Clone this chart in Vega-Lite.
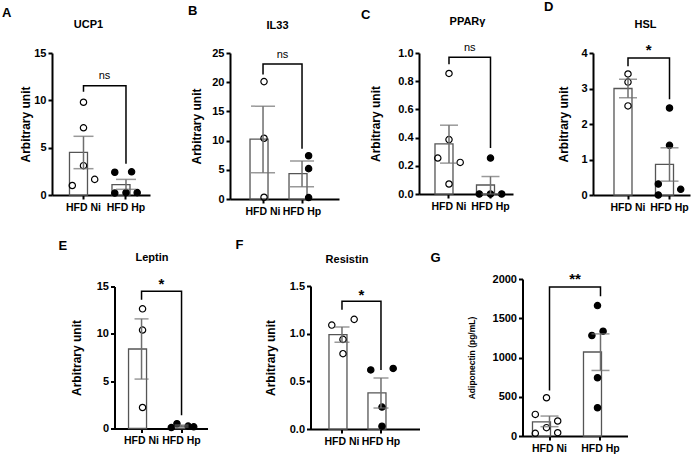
{
"$schema": "https://vega.github.io/schema/vega-lite/v6.json",
"background": "white",
"padding": {"left": 2, "top": 1, "right": 2, "bottom": 2},
"datasets": {
"pts": [
{"p":"A","g":"HFD Ni","v":9.8,"j":3},{"p":"A","g":"HFD Ni","v":7.1,"j":3},{"p":"A","g":"HFD Ni","v":3.1,"j":3},{"p":"A","g":"HFD Ni","v":1.0,"j":1},{"p":"A","g":"HFD Ni","v":1.65,"j":5},
{"p":"A","g":"HFD Hp","v":2.4,"j":1},{"p":"A","g":"HFD Hp","v":2.45,"j":4},{"p":"A","g":"HFD Hp","v":0.2,"j":1},{"p":"A","g":"HFD Hp","v":0.25,"j":3},{"p":"A","g":"HFD Hp","v":0.25,"j":5},
{"p":"B","g":"HFD Ni","v":20.1,"j":3},{"p":"B","g":"HFD Ni","v":10.4,"j":3},{"p":"B","g":"HFD Ni","v":0.3,"j":3},
{"p":"B","g":"HFD Hp","v":7.4,"j":4},{"p":"B","g":"HFD Hp","v":5.2,"j":4},{"p":"B","g":"HFD Hp","v":0.25,"j":4},
{"p":"C","g":"HFD Ni","v":0.855,"j":3},{"p":"C","g":"HFD Ni","v":0.386,"j":3},{"p":"C","g":"HFD Ni","v":0.255,"j":1},{"p":"C","g":"HFD Ni","v":0.224,"j":5},{"p":"C","g":"HFD Ni","v":0.071,"j":3},
{"p":"C","g":"HFD Hp","v":0.255,"j":3},{"p":"C","g":"HFD Hp","v":0.0,"j":1},{"p":"C","g":"HFD Hp","v":0.0,"j":3},{"p":"C","g":"HFD Hp","v":0.0,"j":5},
{"p":"D","g":"HFD Ni","v":3.41,"j":3},{"p":"D","g":"HFD Ni","v":3.18,"j":3},{"p":"D","g":"HFD Ni","v":2.51,"j":3},
{"p":"D","g":"HFD Hp","v":2.45,"j":3},{"p":"D","g":"HFD Hp","v":1.4,"j":3},{"p":"D","g":"HFD Hp","v":0.31,"j":1},{"p":"D","g":"HFD Hp","v":0.16,"j":5},{"p":"D","g":"HFD Hp","v":0.0,"j":1},
{"p":"E","g":"HFD Ni","v":12.64,"j":3},{"p":"E","g":"HFD Ni","v":10.4,"j":3},{"p":"E","g":"HFD Ni","v":2.22,"j":3},
{"p":"E","g":"HFD Hp","v":0.1,"j":1},{"p":"E","g":"HFD Hp","v":0.5,"j":2},{"p":"E","g":"HFD Hp","v":0.25,"j":4},{"p":"E","g":"HFD Hp","v":0.18,"j":5},
{"p":"F","g":"HFD Ni","v":1.09,"j":1},{"p":"F","g":"HFD Ni","v":1.15,"j":5},{"p":"F","g":"HFD Ni","v":0.94,"j":3},{"p":"F","g":"HFD Ni","v":0.79,"j":3},
{"p":"F","g":"HFD Hp","v":0.62,"j":1},{"p":"F","g":"HFD Hp","v":0.635,"j":5},{"p":"F","g":"HFD Hp","v":0.23,"j":3},{"p":"F","g":"HFD Hp","v":0.03,"j":3},
{"p":"G","g":"HFD Ni","v":487,"j":3},{"p":"G","g":"HFD Ni","v":275,"j":1},{"p":"G","g":"HFD Ni","v":191,"j":5},{"p":"G","g":"HFD Ni","v":106,"j":3},{"p":"G","g":"HFD Ni","v":34,"j":1},{"p":"G","g":"HFD Ni","v":42,"j":5},
{"p":"G","g":"HFD Hp","v":1661,"j":3},{"p":"G","g":"HFD Hp","v":1280,"j":2},{"p":"G","g":"HFD Hp","v":1335,"j":4},{"p":"G","g":"HFD Hp","v":742,"j":3},{"p":"G","g":"HFD Hp","v":360,"j":3}
],
"sum": [
{"p":"A","g":"HFD Ni","m":4.5,"lo":2.78,"hi":6.2},{"p":"A","g":"HFD Hp","m":1.1,"lo":0.6,"hi":1.65},
{"p":"B","g":"HFD Ni","m":10.25,"lo":4.5,"hi":15.9},{"p":"B","g":"HFD Hp","m":4.35,"lo":2.1,"hi":6.5},
{"p":"C","g":"HFD Ni","m":0.355,"lo":0.219,"hi":0.488},{"p":"C","g":"HFD Hp","m":0.064,"lo":0.0,"hi":0.124},
{"p":"D","g":"HFD Ni","m":3.0,"lo":2.74,"hi":3.26},{"p":"D","g":"HFD Hp","m":0.86,"lo":0.39,"hi":1.33},
{"p":"E","g":"HFD Ni","m":8.4,"lo":5.22,"hi":11.58},{"p":"E","g":"HFD Hp","m":0.26,"lo":0.16,"hi":0.36},
{"p":"F","g":"HFD Ni","m":0.99,"lo":0.91,"hi":1.07},{"p":"F","g":"HFD Hp","m":0.378,"lo":0.22,"hi":0.535},
{"p":"G","g":"HFD Ni","m":180,"lo":119,"hi":254},{"p":"G","g":"HFD Hp","m":1070,"lo":835,"hi":1301}
],
"br": [
{"p":"A","g":"HFD Ni","y":10.9,"k":1},{"p":"A","g":"HFD Ni","y":11.55,"k":2},{"p":"A","g":"HFD Hp","y":11.55,"k":3},{"p":"A","g":"HFD Hp","y":3.3,"k":4},
{"p":"B","g":"HFD Ni","y":21.3,"k":1},{"p":"B","g":"HFD Ni","y":23.1,"k":2},{"p":"B","g":"HFD Hp","y":23.1,"k":3},{"p":"B","g":"HFD Hp","y":8.6,"k":4},
{"p":"C","g":"HFD Ni","y":0.92,"k":1},{"p":"C","g":"HFD Ni","y":0.97,"k":2},{"p":"C","g":"HFD Hp","y":0.97,"k":3},{"p":"C","g":"HFD Hp","y":0.326,"k":4},
{"p":"D","g":"HFD Ni","y":3.63,"k":1},{"p":"D","g":"HFD Ni","y":3.86,"k":2},{"p":"D","g":"HFD Hp","y":3.86,"k":3},{"p":"D","g":"HFD Hp","y":2.7,"k":4},
{"p":"E","g":"HFD Ni","y":13.6,"k":1},{"p":"E","g":"HFD Ni","y":14.5,"k":2},{"p":"E","g":"HFD Hp","y":14.5,"k":3},{"p":"E","g":"HFD Hp","y":1.4,"k":4},
{"p":"F","g":"HFD Ni","y":1.25,"k":1},{"p":"F","g":"HFD Ni","y":1.34,"k":2},{"p":"F","g":"HFD Hp","y":1.34,"k":3},{"p":"F","g":"HFD Hp","y":0.62,"k":4},
{"p":"G","g":"HFD Ni","y":580,"k":1},{"p":"G","g":"HFD Ni","y":1898,"k":2},{"p":"G","g":"HFD Hp","y":1898,"k":3},{"p":"G","g":"HFD Hp","y":1780,"k":4}
],
"sig": [
{"p":"A","g":"HFD Ni","y":12.3,"t":"ns"},{"p":"B","g":"HFD Ni","y":24.2,"t":"ns"},{"p":"C","g":"HFD Ni","y":1.016,"t":"ns"},
{"p":"D","g":"HFD Ni","y":3.93,"t":"*"},{"p":"E","g":"HFD Ni","y":14.7,"t":"*"},{"p":"F","g":"HFD Ni","y":1.35,"t":"*"},{"p":"G","g":"HFD Ni","y":1930,"t":"**"}
]
},
"spacing": 22,
"center": true,
"vconcat": [
{"hconcat": [
{"width": 98, "height": 142, "title": {"text": "A", "dx": -50, "offset": -2},
"layer": [
{"data": {"name": "sum"}, "transform": [{"filter": "datum.p == 'A'"}], "mark": {"type": "bar", "fill": "white", "stroke": "#555555", "strokeWidth": 1.3},
"encoding": {"x": {"field": "g", "type": "nominal", "title": "UCP1", "scale": {"domain": ["HFD Ni", "HFD Hp"], "paddingInner": 0.341, "paddingOuter": 0.3235, "align": 0.636}, "axis": {"titleX": 36, "titleY": -168}},
"y": {"field": "m", "type": "quantitative", "title": "Arbitrary unit", "scale": {"domain": [0, 15], "nice": false}, "axis": {"values": [0, 5, 10, 15], "titlePadding": 1, "labelOverlap": false}}}},
{"data": {"name": "pts"}, "transform": [{"filter": "datum.p == 'A'"}], "mark": {"type": "point", "shape": "circle", "size": 40, "filled": true, "stroke": "black", "strokeWidth": 1.2, "opacity": 1},
"encoding": {"x": {"field": "g", "type": "nominal", "title": "UCP1"}, "xOffset": {"field": "j", "type": "ordinal", "scale": {"domain": [1, 2, 3, 4, 5]}}, "y": {"field": "v", "type": "quantitative", "title": "Arbitrary unit", "axis": {"values": [0, 5, 10, 15], "titlePadding": 1, "labelOverlap": false}},
"fill": {"field": "g", "type": "nominal", "scale": {"domain": ["HFD Ni", "HFD Hp"], "range": ["transparent", "black"]}, "legend": null}}},
{"data": {"name": "sum"}, "transform": [{"filter": "datum.p == 'A'"}], "mark": {"type": "rule", "color": "#6e6e6e", "strokeWidth": 1.5},
"encoding": {"x": {"field": "g", "type": "nominal", "title": "UCP1"}, "y": {"field": "lo", "type": "quantitative", "title": "Arbitrary unit", "axis": {"values": [0, 5, 10, 15], "titlePadding": 1, "labelOverlap": false}}, "y2": {"field": "hi"}}},
{"data": {"name": "sum"}, "transform": [{"filter": "datum.p == 'A'"}, {"fold": ["lo", "hi"], "as": ["kk", "vv"]}], "mark": {"type": "tick", "color": "#6e6e6e", "thickness": 1.5, "size": 20},
"encoding": {"x": {"field": "g", "type": "nominal", "title": "UCP1"}, "y": {"field": "vv", "type": "quantitative", "title": "Arbitrary unit", "axis": {"values": [0, 5, 10, 15], "titlePadding": 1, "labelOverlap": false}}}},
{"data": {"name": "br"}, "transform": [{"filter": "datum.p == 'A'"}], "mark": {"type": "line", "color": "black", "strokeWidth": 1.5},
"encoding": {"x": {"field": "g", "type": "nominal", "title": "UCP1"}, "y": {"field": "y", "type": "quantitative", "title": "Arbitrary unit", "axis": {"values": [0, 5, 10, 15], "titlePadding": 1, "labelOverlap": false}}, "order": {"field": "k", "type": "quantitative"}}},
{"data": {"name": "sig"}, "transform": [{"filter": "datum.p == 'A'"}], "mark": {"type": "text", "dx": 21, "fontSize": 11, "font": "Liberation Sans", "baseline": "alphabetic", "align": "center", "color": "black"},
"encoding": {"x": {"field": "g", "type": "nominal", "title": "UCP1"}, "y": {"field": "y", "type": "quantitative", "title": "Arbitrary unit", "axis": {"values": [0, 5, 10, 15], "titlePadding": 1, "labelOverlap": false}}, "text": {"field": "t"}}}
]},
{"width": 109, "height": 146, "title": {"text": "B", "dx": -42, "offset": 1},
"layer": [
{"data": {"name": "sum"}, "transform": [{"filter": "datum.p == 'B'"}], "mark": {"type": "bar", "fill": "white", "stroke": "#555555", "strokeWidth": 1.3},
"encoding": {"x": {"field": "g", "type": "nominal", "title": "IL33", "scale": {"domain": ["HFD Ni", "HFD Hp"], "paddingInner": 0.333, "paddingOuter": 0.564, "align": 0.455}, "axis": {"titleX": 47, "titleY": -171}},
"y": {"field": "m", "type": "quantitative", "title": "Arbitrary unit", "scale": {"domain": [0, 25], "nice": false}, "axis": {"values": [0, 5, 10, 15, 20, 25], "titlePadding": 8, "labelOverlap": false}}}},
{"data": {"name": "pts"}, "transform": [{"filter": "datum.p == 'B'"}], "mark": {"type": "point", "shape": "circle", "size": 40, "filled": true, "stroke": "black", "strokeWidth": 1.2, "opacity": 1},
"encoding": {"x": {"field": "g", "type": "nominal", "title": "IL33"}, "xOffset": {"field": "j", "type": "ordinal", "scale": {"domain": [1, 2, 3, 4, 5]}}, "y": {"field": "v", "type": "quantitative", "title": "Arbitrary unit", "axis": {"values": [0, 5, 10, 15, 20, 25], "titlePadding": 8, "labelOverlap": false}},
"fill": {"field": "g", "type": "nominal", "scale": {"domain": ["HFD Ni", "HFD Hp"], "range": ["transparent", "black"]}, "legend": null}}},
{"data": {"name": "sum"}, "transform": [{"filter": "datum.p == 'B'"}], "mark": {"type": "rule", "color": "#6e6e6e", "strokeWidth": 1.5},
"encoding": {"x": {"field": "g", "type": "nominal", "title": "IL33"}, "y": {"field": "lo", "type": "quantitative", "title": "Arbitrary unit", "axis": {"values": [0, 5, 10, 15, 20, 25], "titlePadding": 8, "labelOverlap": false}}, "y2": {"field": "hi"}}},
{"data": {"name": "sum"}, "transform": [{"filter": "datum.p == 'B'"}, {"fold": ["lo", "hi"], "as": ["kk", "vv"]}], "mark": {"type": "tick", "color": "#6e6e6e", "thickness": 1.5, "size": 24},
"encoding": {"x": {"field": "g", "type": "nominal", "title": "IL33"}, "y": {"field": "vv", "type": "quantitative", "title": "Arbitrary unit", "axis": {"values": [0, 5, 10, 15, 20, 25], "titlePadding": 8, "labelOverlap": false}}}},
{"data": {"name": "br"}, "transform": [{"filter": "datum.p == 'B'"}], "mark": {"type": "line", "color": "black", "strokeWidth": 1.5},
"encoding": {"x": {"field": "g", "type": "nominal", "title": "IL33"}, "y": {"field": "y", "type": "quantitative", "title": "Arbitrary unit", "axis": {"values": [0, 5, 10, 15, 20, 25], "titlePadding": 8, "labelOverlap": false}}, "order": {"field": "k", "type": "quantitative"}}},
{"data": {"name": "sig"}, "transform": [{"filter": "datum.p == 'B'"}], "mark": {"type": "text", "dx": 19.5, "fontSize": 11, "font": "Liberation Sans", "baseline": "alphabetic", "align": "center", "color": "black"},
"encoding": {"x": {"field": "g", "type": "nominal", "title": "IL33"}, "y": {"field": "y", "type": "quantitative", "title": "Arbitrary unit", "axis": {"values": [0, 5, 10, 15, 20, 25], "titlePadding": 8, "labelOverlap": false}}, "text": {"field": "t"}}}
]},
{"width": 94, "height": 141, "title": {"text": "C", "dx": -58, "offset": -7},
"layer": [
{"data": {"name": "sum"}, "transform": [{"filter": "datum.p == 'C'"}], "mark": {"type": "bar", "fill": "white", "stroke": "#555555", "strokeWidth": 1.3},
"encoding": {"x": {"field": "g", "type": "nominal", "title": "PPARγ", "scale": {"domain": ["HFD Ni", "HFD Hp"], "paddingInner": 0.325, "paddingOuter": 0.295, "align": 0.653}, "axis": {"titleX": 48, "titleY": -170}},
"y": {"field": "m", "type": "quantitative", "title": "Arbitrary unit", "scale": {"domain": [0, 1], "nice": false}, "axis": {"values": [0, 0.2, 0.4, 0.6, 0.8, 1], "format": ".1f", "titlePadding": 15, "labelOverlap": false}}}},
{"data": {"name": "pts"}, "transform": [{"filter": "datum.p == 'C'"}], "mark": {"type": "point", "shape": "circle", "size": 40, "filled": true, "stroke": "black", "strokeWidth": 1.2, "opacity": 1},
"encoding": {"x": {"field": "g", "type": "nominal", "title": "PPARγ"}, "xOffset": {"field": "j", "type": "ordinal", "scale": {"domain": [1, 2, 3, 4, 5]}}, "y": {"field": "v", "type": "quantitative", "title": "Arbitrary unit", "axis": {"values": [0, 0.2, 0.4, 0.6, 0.8, 1], "format": ".1f", "titlePadding": 15, "labelOverlap": false}},
"fill": {"field": "g", "type": "nominal", "scale": {"domain": ["HFD Ni", "HFD Hp"], "range": ["transparent", "black"]}, "legend": null}}},
{"data": {"name": "sum"}, "transform": [{"filter": "datum.p == 'C'"}], "mark": {"type": "rule", "color": "#6e6e6e", "strokeWidth": 1.5},
"encoding": {"x": {"field": "g", "type": "nominal", "title": "PPARγ"}, "y": {"field": "lo", "type": "quantitative", "title": "Arbitrary unit", "axis": {"values": [0, 0.2, 0.4, 0.6, 0.8, 1], "format": ".1f", "titlePadding": 15, "labelOverlap": false}}, "y2": {"field": "hi"}}},
{"data": {"name": "sum"}, "transform": [{"filter": "datum.p == 'C'"}, {"fold": ["lo", "hi"], "as": ["kk", "vv"]}], "mark": {"type": "tick", "color": "#6e6e6e", "thickness": 1.5, "size": 18},
"encoding": {"x": {"field": "g", "type": "nominal", "title": "PPARγ"}, "y": {"field": "vv", "type": "quantitative", "title": "Arbitrary unit", "axis": {"values": [0, 0.2, 0.4, 0.6, 0.8, 1], "format": ".1f", "titlePadding": 15, "labelOverlap": false}}}},
{"data": {"name": "br"}, "transform": [{"filter": "datum.p == 'C'"}], "mark": {"type": "line", "color": "black", "strokeWidth": 1.5},
"encoding": {"x": {"field": "g", "type": "nominal", "title": "PPARγ"}, "y": {"field": "y", "type": "quantitative", "title": "Arbitrary unit", "axis": {"values": [0, 0.2, 0.4, 0.6, 0.8, 1], "format": ".1f", "titlePadding": 15, "labelOverlap": false}}, "order": {"field": "k", "type": "quantitative"}}},
{"data": {"name": "sig"}, "transform": [{"filter": "datum.p == 'C'"}], "mark": {"type": "text", "dx": 20.75, "fontSize": 11, "font": "Liberation Sans", "baseline": "alphabetic", "align": "center", "color": "black"},
"encoding": {"x": {"field": "g", "type": "nominal", "title": "PPARγ"}, "y": {"field": "y", "type": "quantitative", "title": "Arbitrary unit", "axis": {"values": [0, 0.2, 0.4, 0.6, 0.8, 1], "format": ".1f", "titlePadding": 15, "labelOverlap": false}}, "text": {"field": "t"}}}
]},
{"width": 97, "height": 142, "title": {"text": "D", "dx": -49, "offset": 4},
"layer": [
{"data": {"name": "sum"}, "transform": [{"filter": "datum.p == 'D'"}], "mark": {"type": "bar", "fill": "white", "stroke": "#555555", "strokeWidth": 1.3},
"encoding": {"x": {"field": "g", "type": "nominal", "title": "HSL", "scale": {"domain": ["HFD Ni", "HFD Hp"], "paddingInner": 0.325, "paddingOuter": 0.331, "align": 0.764}, "axis": {"titleX": 52, "titleY": -168}},
"y": {"field": "m", "type": "quantitative", "title": "Arbitrary unit", "scale": {"domain": [0, 4], "nice": false}, "axis": {"values": [0, 1, 2, 3, 4], "titlePadding": 10, "labelOverlap": false}}}},
{"data": {"name": "pts"}, "transform": [{"filter": "datum.p == 'D'"}], "mark": {"type": "point", "shape": "circle", "size": 40, "filled": true, "stroke": "black", "strokeWidth": 1.2, "opacity": 1},
"encoding": {"x": {"field": "g", "type": "nominal", "title": "HSL"}, "xOffset": {"field": "j", "type": "ordinal", "scale": {"domain": [1, 2, 3, 4, 5]}}, "y": {"field": "v", "type": "quantitative", "title": "Arbitrary unit", "axis": {"values": [0, 1, 2, 3, 4], "titlePadding": 10, "labelOverlap": false}},
"fill": {"field": "g", "type": "nominal", "scale": {"domain": ["HFD Ni", "HFD Hp"], "range": ["transparent", "black"]}, "legend": null}}},
{"data": {"name": "sum"}, "transform": [{"filter": "datum.p == 'D'"}], "mark": {"type": "rule", "color": "#6e6e6e", "strokeWidth": 1.5},
"encoding": {"x": {"field": "g", "type": "nominal", "title": "HSL"}, "y": {"field": "lo", "type": "quantitative", "title": "Arbitrary unit", "axis": {"values": [0, 1, 2, 3, 4], "titlePadding": 10, "labelOverlap": false}}, "y2": {"field": "hi"}}},
{"data": {"name": "sum"}, "transform": [{"filter": "datum.p == 'D'"}, {"fold": ["lo", "hi"], "as": ["kk", "vv"]}], "mark": {"type": "tick", "color": "#6e6e6e", "thickness": 1.5, "size": 18},
"encoding": {"x": {"field": "g", "type": "nominal", "title": "HSL"}, "y": {"field": "vv", "type": "quantitative", "title": "Arbitrary unit", "axis": {"values": [0, 1, 2, 3, 4], "titlePadding": 10, "labelOverlap": false}}}},
{"data": {"name": "br"}, "transform": [{"filter": "datum.p == 'D'"}], "mark": {"type": "line", "color": "black", "strokeWidth": 1.5},
"encoding": {"x": {"field": "g", "type": "nominal", "title": "HSL"}, "y": {"field": "y", "type": "quantitative", "title": "Arbitrary unit", "axis": {"values": [0, 1, 2, 3, 4], "titlePadding": 10, "labelOverlap": false}}, "order": {"field": "k", "type": "quantitative"}}},
{"data": {"name": "sig"}, "transform": [{"filter": "datum.p == 'D'"}], "mark": {"type": "text", "dx": 20.75, "fontSize": 15, "fontWeight": "bold", "font": "Liberation Sans", "baseline": "alphabetic", "align": "center", "color": "black"},
"encoding": {"x": {"field": "g", "type": "nominal", "title": "HSL"}, "y": {"field": "y", "type": "quantitative", "title": "Arbitrary unit", "axis": {"values": [0, 1, 2, 3, 4], "titlePadding": 10, "labelOverlap": false}}, "text": {"field": "t"}}}
]}
], "spacing": 80, "bounds": "flush"},
{"hconcat": [
{"width": 93, "height": 142, "title": {"text": "E", "dx": -56, "offset": -1},
"layer": [
{"data": {"name": "sum"}, "transform": [{"filter": "datum.p == 'E'"}], "mark": {"type": "bar", "fill": "white", "stroke": "#555555", "strokeWidth": 1.3},
"encoding": {"x": {"field": "g", "type": "nominal", "title": "Leptin", "scale": {"domain": ["HFD Ni", "HFD Hp"], "paddingInner": 0.35, "paddingOuter": 0.3375, "align": 0.52}, "axis": {"titleX": 37, "titleY": -168}},
"y": {"field": "m", "type": "quantitative", "title": "Arbitrary unit", "scale": {"domain": [0, 15], "nice": false}, "axis": {"values": [0, 5, 10, 15], "titlePadding": 13, "labelOverlap": false}}}},
{"data": {"name": "pts"}, "transform": [{"filter": "datum.p == 'E'"}], "mark": {"type": "point", "shape": "circle", "size": 40, "filled": true, "stroke": "black", "strokeWidth": 1.2, "opacity": 1},
"encoding": {"x": {"field": "g", "type": "nominal", "title": "Leptin"}, "xOffset": {"field": "j", "type": "ordinal", "scale": {"domain": [1, 2, 3, 4, 5]}}, "y": {"field": "v", "type": "quantitative", "title": "Arbitrary unit", "axis": {"values": [0, 5, 10, 15], "titlePadding": 13, "labelOverlap": false}},
"fill": {"field": "g", "type": "nominal", "scale": {"domain": ["HFD Ni", "HFD Hp"], "range": ["transparent", "black"]}, "legend": null}}},
{"data": {"name": "sum"}, "transform": [{"filter": "datum.p == 'E'"}], "mark": {"type": "rule", "color": "#6e6e6e", "strokeWidth": 1.5},
"encoding": {"x": {"field": "g", "type": "nominal", "title": "Leptin"}, "y": {"field": "lo", "type": "quantitative", "title": "Arbitrary unit", "axis": {"values": [0, 5, 10, 15], "titlePadding": 13, "labelOverlap": false}}, "y2": {"field": "hi"}}},
{"data": {"name": "sum"}, "transform": [{"filter": "datum.p == 'E'"}, {"fold": ["lo", "hi"], "as": ["kk", "vv"]}], "mark": {"type": "tick", "color": "#6e6e6e", "thickness": 1.5, "size": 14},
"encoding": {"x": {"field": "g", "type": "nominal", "title": "Leptin"}, "y": {"field": "vv", "type": "quantitative", "title": "Arbitrary unit", "axis": {"values": [0, 5, 10, 15], "titlePadding": 13, "labelOverlap": false}}}},
{"data": {"name": "br"}, "transform": [{"filter": "datum.p == 'E'"}], "mark": {"type": "line", "color": "black", "strokeWidth": 1.5},
"encoding": {"x": {"field": "g", "type": "nominal", "title": "Leptin"}, "y": {"field": "y", "type": "quantitative", "title": "Arbitrary unit", "axis": {"values": [0, 5, 10, 15], "titlePadding": 13, "labelOverlap": false}}, "order": {"field": "k", "type": "quantitative"}}},
{"data": {"name": "sig"}, "transform": [{"filter": "datum.p == 'E'"}], "mark": {"type": "text", "dx": 20, "fontSize": 15, "fontWeight": "bold", "font": "Liberation Sans", "baseline": "alphabetic", "align": "center", "color": "black"},
"encoding": {"x": {"field": "g", "type": "nominal", "title": "Leptin"}, "y": {"field": "y", "type": "quantitative", "title": "Arbitrary unit", "axis": {"values": [0, 5, 10, 15], "titlePadding": 13, "labelOverlap": false}}, "text": {"field": "t"}}}
]},
{"width": 109, "height": 143, "title": {"text": "F", "dx": -75, "offset": 1},
"layer": [
{"data": {"name": "sum"}, "transform": [{"filter": "datum.p == 'F'"}], "mark": {"type": "bar", "fill": "white", "stroke": "#555555", "strokeWidth": 1.3},
"encoding": {"x": {"field": "g", "type": "nominal", "title": "Resistin", "scale": {"domain": ["HFD Ni", "HFD Hp"], "paddingInner": 0.333, "paddingOuter": 0.564, "align": 0.42}, "axis": {"titleX": 36, "titleY": -167}},
"y": {"field": "m", "type": "quantitative", "title": "Arbitrary unit", "scale": {"domain": [0, 1.5], "nice": false}, "axis": {"values": [0, 0.5, 1, 1.5], "format": ".1f", "titlePadding": 12, "labelOverlap": false}}}},
{"data": {"name": "pts"}, "transform": [{"filter": "datum.p == 'F'"}], "mark": {"type": "point", "shape": "circle", "size": 40, "filled": true, "stroke": "black", "strokeWidth": 1.2, "opacity": 1},
"encoding": {"x": {"field": "g", "type": "nominal", "title": "Resistin"}, "xOffset": {"field": "j", "type": "ordinal", "scale": {"domain": [1, 2, 3, 4, 5]}}, "y": {"field": "v", "type": "quantitative", "title": "Arbitrary unit", "axis": {"values": [0, 0.5, 1, 1.5], "format": ".1f", "titlePadding": 12, "labelOverlap": false}},
"fill": {"field": "g", "type": "nominal", "scale": {"domain": ["HFD Ni", "HFD Hp"], "range": ["transparent", "black"]}, "legend": null}}},
{"data": {"name": "sum"}, "transform": [{"filter": "datum.p == 'F'"}], "mark": {"type": "rule", "color": "#6e6e6e", "strokeWidth": 1.5},
"encoding": {"x": {"field": "g", "type": "nominal", "title": "Resistin"}, "y": {"field": "lo", "type": "quantitative", "title": "Arbitrary unit", "axis": {"values": [0, 0.5, 1, 1.5], "format": ".1f", "titlePadding": 12, "labelOverlap": false}}, "y2": {"field": "hi"}}},
{"data": {"name": "sum"}, "transform": [{"filter": "datum.p == 'F'"}, {"fold": ["lo", "hi"], "as": ["kk", "vv"]}], "mark": {"type": "tick", "color": "#6e6e6e", "thickness": 1.5, "size": 15},
"encoding": {"x": {"field": "g", "type": "nominal", "title": "Resistin"}, "y": {"field": "vv", "type": "quantitative", "title": "Arbitrary unit", "axis": {"values": [0, 0.5, 1, 1.5], "format": ".1f", "titlePadding": 12, "labelOverlap": false}}}},
{"data": {"name": "br"}, "transform": [{"filter": "datum.p == 'F'"}], "mark": {"type": "line", "color": "black", "strokeWidth": 1.5},
"encoding": {"x": {"field": "g", "type": "nominal", "title": "Resistin"}, "y": {"field": "y", "type": "quantitative", "title": "Arbitrary unit", "axis": {"values": [0, 0.5, 1, 1.5], "format": ".1f", "titlePadding": 12, "labelOverlap": false}}, "order": {"field": "k", "type": "quantitative"}}},
{"data": {"name": "sig"}, "transform": [{"filter": "datum.p == 'F'"}], "mark": {"type": "text", "dx": 19.5, "fontSize": 15, "fontWeight": "bold", "font": "Liberation Sans", "baseline": "alphabetic", "align": "center", "color": "black"},
"encoding": {"x": {"field": "g", "type": "nominal", "title": "Resistin"}, "y": {"field": "y", "type": "quantitative", "title": "Arbitrary unit", "axis": {"values": [0, 0.5, 1, 1.5], "format": ".1f", "titlePadding": 12, "labelOverlap": false}}, "text": {"field": "t"}}}
]},
{"width": 105, "height": 157, "title": {"text": "G", "dx": -92, "offset": 7},
"layer": [
{"data": {"name": "sum"}, "transform": [{"filter": "datum.p == 'G'"}], "mark": {"type": "bar", "fill": "white", "stroke": "#555555", "strokeWidth": 1.3},
"encoding": {"x": {"field": "g", "type": "nominal", "title": null, "scale": {"domain": ["HFD Ni", "HFD Hp"], "paddingInner": 0.333, "paddingOuter": 0.196, "align": 0.5}},
"y": {"field": "m", "type": "quantitative", "title": "Adiponectin (pg/mL)", "scale": {"domain": [0, 2000], "nice": false}, "axis": {"values": [0, 500, 1000, 1500, 2000], "format": "d", "titleFontSize": 8.5, "titlePadding": 16, "labelOverlap": false}}}},
{"data": {"name": "pts"}, "transform": [{"filter": "datum.p == 'G'"}], "mark": {"type": "point", "shape": "circle", "size": 40, "filled": true, "stroke": "black", "strokeWidth": 1.2, "opacity": 1},
"encoding": {"x": {"field": "g", "type": "nominal", "title": null}, "xOffset": {"field": "j", "type": "ordinal", "scale": {"domain": [1, 2, 3, 4, 5]}}, "y": {"field": "v", "type": "quantitative", "title": "Adiponectin (pg/mL)", "axis": {"values": [0, 500, 1000, 1500, 2000], "format": "d", "titleFontSize": 8.5, "titlePadding": 16, "labelOverlap": false}},
"fill": {"field": "g", "type": "nominal", "scale": {"domain": ["HFD Ni", "HFD Hp"], "range": ["transparent", "black"]}, "legend": null}}},
{"data": {"name": "sum"}, "transform": [{"filter": "datum.p == 'G'"}], "mark": {"type": "rule", "color": "#6e6e6e", "strokeWidth": 1.5},
"encoding": {"x": {"field": "g", "type": "nominal", "title": null}, "y": {"field": "lo", "type": "quantitative", "title": "Adiponectin (pg/mL)", "axis": {"values": [0, 500, 1000, 1500, 2000], "format": "d", "titleFontSize": 8.5, "titlePadding": 16, "labelOverlap": false}}, "y2": {"field": "hi"}}},
{"data": {"name": "sum"}, "transform": [{"filter": "datum.p == 'G'"}, {"fold": ["lo", "hi"], "as": ["kk", "vv"]}], "mark": {"type": "tick", "color": "#6e6e6e", "thickness": 1.5, "size": 18},
"encoding": {"x": {"field": "g", "type": "nominal", "title": null}, "y": {"field": "vv", "type": "quantitative", "title": "Adiponectin (pg/mL)", "axis": {"values": [0, 500, 1000, 1500, 2000], "format": "d", "titleFontSize": 8.5, "titlePadding": 16, "labelOverlap": false}}}},
{"data": {"name": "br"}, "transform": [{"filter": "datum.p == 'G'"}], "mark": {"type": "line", "color": "black", "strokeWidth": 1.5},
"encoding": {"x": {"field": "g", "type": "nominal", "title": null}, "y": {"field": "y", "type": "quantitative", "title": "Adiponectin (pg/mL)", "axis": {"values": [0, 500, 1000, 1500, 2000], "format": "d", "titleFontSize": 8.5, "titlePadding": 16, "labelOverlap": false}}, "order": {"field": "k", "type": "quantitative"}}},
{"data": {"name": "sig"}, "transform": [{"filter": "datum.p == 'G'"}], "mark": {"type": "text", "dx": 25.5, "fontSize": 15, "fontWeight": "bold", "font": "Liberation Sans", "baseline": "alphabetic", "align": "center", "color": "black"},
"encoding": {"x": {"field": "g", "type": "nominal", "title": null}, "y": {"field": "y", "type": "quantitative", "title": "Adiponectin (pg/mL)", "axis": {"values": [0, 500, 1000, 1500, 2000], "format": "d", "titleFontSize": 8.5, "titlePadding": 16, "labelOverlap": false}}, "text": {"field": "t"}}}
]}
], "spacing": 103, "bounds": "flush", "center": true}
],
"config": {
"view": {"stroke": null},
"font": "Liberation Sans",
"axis": {"grid": false, "domainColor": "black", "domainWidth": 2, "tickColor": "black", "tickWidth": 2, "tickSize": 4, "labelFont": "Liberation Sans", "labelFontSize": 11, "labelFontWeight": "bold", "labelColor": "black", "titleFont": "Liberation Sans", "titleFontWeight": "bold", "titleColor": "black", "labelPadding": 2, "labelOverlap": false},
"axisX": {"labelAngle": 0, "titleAngle": 0, "titleAlign": "center", "titleBaseline": "alphabetic", "titleFontSize": 11, "labelPadding": 3, "labelFontSize": 10.5},
"axisY": {"titleFontSize": 12},
"title": {"anchor": "start", "frame": "group", "font": "Liberation Sans", "fontSize": 13, "fontWeight": "bold", "color": "black", "baseline": "alphabetic"}
}
}
